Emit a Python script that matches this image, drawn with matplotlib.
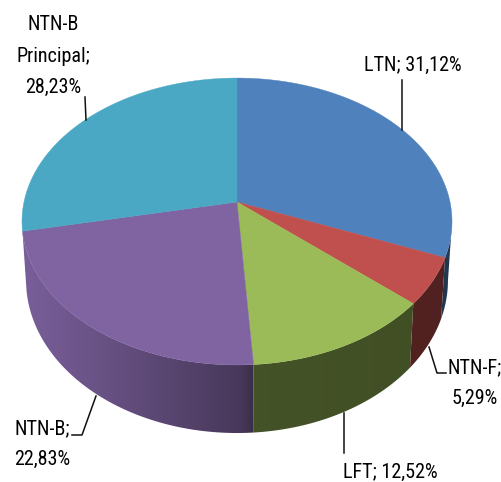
import numpy as np
import matplotlib
matplotlib.use("Agg")
import matplotlib.pyplot as plt
from matplotlib.patches import Polygon
from matplotlib.colors import to_rgb

labels = ["LTN", "NTN-F", "LFT", "NTN-B", "NTN-B\nPrincipal"]
values = [31.12, 5.29, 12.52, 22.83, 28.23]
colors = ["#4f81bd", "#c0504d", "#9bbb59", "#8064a2", "#4aa8c4"]
labelText = ["LTN; 31,12%", "NTN-F;\n5,29%", "LFT; 12,52%", "NTN-B;\n22,83%", "NTN-B\nPrincipal;\n28,23%"]
labelPos = [(413, 65), (475, 383), (390, 472), (42, 444), (53, 56)]
leaders = [[(402, 80), (402, 130)],
           [(429, 347), (437, 373), (446, 373)],
           [(344, 413), (344, 453)],
           [(96, 396), (82, 435), (72, 435)],
           [(85, 97), (86, 120)]]

plt.rcParams['font.family'] = ['Roboto Condensed', 'Carlito', 'Liberation Sans']

# perspective of the disc, numbers fitted to the picture
K = 0.136
CX = 237.0
TOP = (213.0, 140.8, 202.0)     # x radius, y radius, apex y
BOTTOM = (209.0, 150.0, 259.4)
WALL_START = np.radians(98)     # right hand silhouette of the cylinder


def project(t, disc):
	u = np.sin(t)
	v = -np.cos(t)
	s = 1 / (1 - K*v)
	return CX + disc[0]*u*s, disc[2] + disc[1]*v*s


fig = plt.figure(figsize=(5.01, 4.82), dpi=100)
ax = fig.add_axes([0, 0, 1, 1])

edges = np.concatenate([[0], np.cumsum(values)]) / sum(values) * 2*np.pi

#shade of the wall runs left to right
gx = np.linspace(0, 501, 502)
shade = np.interp(gx, [22, 110, 240, 256, 450], [0.95, 0.80, 0.56, 0.44, 0.42])

#side wall first, the top goes over it. last slice sits at the back, no wall
for i in range(len(values)-1):
	ts = np.linspace(max(edges[i], WALL_START), edges[i+1], 100)
	xt, yt = project(ts, TOP)
	xb, yb = project(ts[::-1], BOTTOM)
	poly = Polygon(np.c_[np.r_[xt, xb], np.r_[yt, yb]], closed=True, fc="none", ec="none", transform=ax.transData)
	ax.add_patch(poly)
	rgb = np.outer(shade, to_rgb(colors[i]))[np.newaxis, :, :]
	im = ax.imshow(rgb, extent=(0, 501, 482, 0), aspect="auto", interpolation="bilinear")
	im.set_clip_path(poly)

for i in range(len(values)):
	ts = np.linspace(edges[i], edges[i+1], 100)
	x, y = project(ts, TOP)
	ax.fill(np.r_[CX, x], np.r_[TOP[2], y], color=colors[i], lw=0.3)

for line in leaders:
	ax.plot(*zip(*line), color="#111111", lw=1.1)

for pos, text in zip(labelPos, labelText):
	ax.text(pos[0], pos[1], text, ha="center", va="center", fontsize=14.5, linespacing=1.8, color="black")

ax.set_xlim(0, 501)
ax.set_ylim(482, 0)
ax.axis("off")

fig.savefig("out.png", dpi=100)
